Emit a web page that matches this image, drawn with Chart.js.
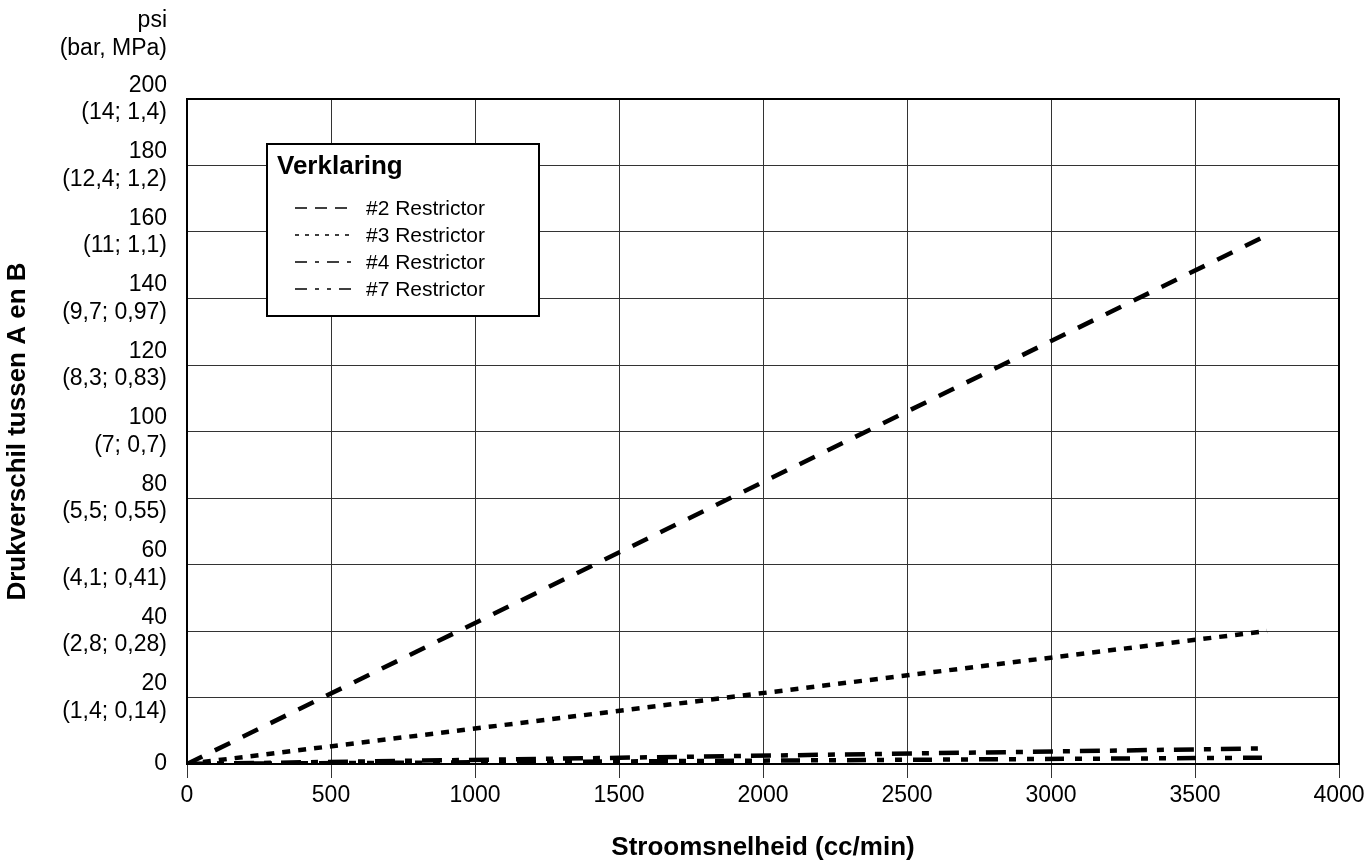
<!DOCTYPE html>
<html>
<head>
<meta charset="utf-8">
<script src="https://cdn.jsdelivr.net/npm/chart.js@4"></script>
<style>
  body { margin: 0; background: #fff; }
  #wrap { width: 1369px; height: 868px; }
</style>
</head>
<body>
<div id="wrap"><canvas id="myChart"></canvas></div>
<script>
// values
const flowRate = [0, 3750];          // cc/min
const restrictor2 = [0, 159];        // psi
const restrictor3 = [0, 40];
const restrictor4 = [0, 4.7];
const restrictor7 = [0, 1.9];

const seriesNames = ["#2 Restrictor", "#3 Restrictor", "#4 Restrictor", "#7 Restrictor"];
const psiTicks = [0, 20, 40, 60, 80, 100, 120, 140, 160, 180, 200];
const barMpaTicks = ["", "(1,4; 0,14)", "(2,8; 0,28)", "(4,1; 0,41)", "(5,5; 0,55)", "(7; 0,7)",
                     "(8,3; 0,83)", "(9,7; 0,97)", "(11; 1,1)", "(12,4; 1,2)", "(14; 1,4)"];
const flowTicks = [0, 500, 1000, 1500, 2000, 2500, 3000, 3500, 4000];

const fontName = "'Liberation Sans', Arial, Helvetica, sans-serif";

function pts(ys) {
    return flowRate.map((x, i) => ({ x: x, y: ys[i] }));
}

// frame around the plot + the "Verklaring" box
const framePlugin = {
    id: "frame",
    afterDatasetsDraw(chart) {
        const ctx = chart.ctx;
        const a = chart.chartArea;
        ctx.save();
        ctx.strokeStyle = "#000";
        ctx.lineWidth = 2;
        ctx.strokeRect(a.left, a.top, a.right - a.left, a.bottom - a.top);

        // legend box
        const bx = a.left + 80, by = a.top + 45, bw = 272, bh = 172;
        ctx.fillStyle = "#fff";
        ctx.fillRect(bx, by, bw, bh);
        ctx.strokeRect(bx, by, bw, bh);

        ctx.fillStyle = "#000";
        ctx.textBaseline = "alphabetic";
        ctx.textAlign = "left";
        ctx.font = "bold 26px " + fontName;
        ctx.fillText("Verklaring", bx + 10, by + 30);

        ctx.font = "21px " + fontName;
        ctx.textBaseline = "middle";
        chart.data.datasets.forEach((ds, i) => {
            const y = by + 64 + i * 27;
            ctx.beginPath();
            ctx.lineWidth = 1.5;
            ctx.setLineDash(ds.legendDash);
            ctx.moveTo(bx + 28, y);
            ctx.lineTo(bx + 85, y);
            ctx.stroke();
            ctx.setLineDash([]);
            ctx.fillText(ds.label, bx + 99, y + 1);
        });

        // unit header above the y ticks
        ctx.font = "23px " + fontName;
        ctx.textAlign = "right";
        const rx = a.left - 20;
        ctx.fillText("psi", rx, 21);
        ctx.fillText("(bar, MPa)", rx, 49);
        ctx.restore();
    }
};

new Chart("myChart", {
    type: "line",
    data: {
        datasets: [
            { label: seriesNames[0], data: pts(restrictor2), borderDash: [17, 14], legendDash: [12, 8] },
            { label: seriesNames[1], data: pts(restrictor3), borderDash: [8, 8], legendDash: [4, 6] },
            { label: seriesNames[2], data: pts(restrictor4), borderDash: [20, 10, 7, 10], legendDash: [12, 8, 4, 8] },
            { label: seriesNames[3], data: pts(restrictor7), borderDash: [19, 11, 7, 11, 7, 11], legendDash: [12, 8, 4, 8, 4, 8] }
        ].map(d => Object.assign({
            borderColor: "#000",
            borderWidth: 4.5,
            borderCapStyle: "butt",
            pointRadius: 0,
            tension: 0,
            fill: false
        }, d))
    },
    options: {
        responsive: true,
        maintainAspectRatio: false,
        animation: false,
        layout: { padding: { top: 99, right: 30, left: 0, bottom: 0 } },
        plugins: {
            legend: { display: false },
            tooltip: { enabled: false }
        },
        scales: {
            x: {
                type: "linear",
                min: 0,
                max: 4000,
                afterBuildTicks: s => { s.ticks = flowTicks.map(v => ({ value: v })); },
                afterFit: s => { s.height = 104; },
                grid: { color: "#333", lineWidth: 1, tickLength: 14, tickColor: "#333" },
                border: { display: false },
                ticks: {
                    color: "#000",
                    font: { family: fontName, size: 23 },
                    padding: 4,
                    maxRotation: 0,
                    callback: v => String(v)
                },
                title: {
                    display: true,
                    text: "Stroomsnelheid (cc/min)",
                    color: "#000",
                    font: { family: fontName, size: 26, weight: "bold" },
                    padding: { top: 0, bottom: 5 }
                }
            },
            y: {
                min: 0,
                max: 200,
                afterBuildTicks: s => { s.ticks = psiTicks.map(v => ({ value: v })); },
                afterFit: s => { s.width = 187; },
                grid: { color: "#333", lineWidth: 1, drawTicks: false },
                border: { display: false },
                ticks: {
                    color: "#000",
                    font: { family: fontName, size: 23 },
                    padding: 20,
                    callback: (v) => {
                        const i = psiTicks.indexOf(v);
                        return barMpaTicks[i] ? [String(v), barMpaTicks[i]] : String(v);
                    }
                },
                title: {
                    display: true,
                    text: "Drukverschil tussen A en B",
                    color: "#000",
                    font: { family: fontName, size: 26, weight: "bold" },
                    padding: { top: 2, bottom: 0 }
                }
            }
        }
    },
    plugins: [framePlugin]
});
</script>
</body>
</html>
